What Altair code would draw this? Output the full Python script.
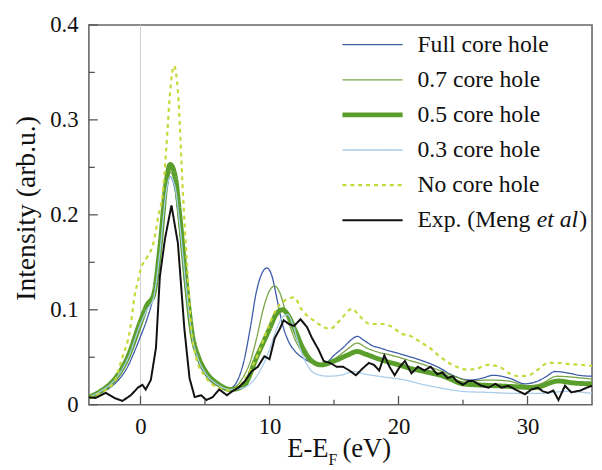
import altair as alt
import pandas as pd

# ---------------- data ----------------
full_E = [-4, -3, -2, -1, -0.5, 0, 0.5, 1, 1.5, 2, 2.3, 2.7, 3, 3.5, 4, 4.5, 5, 6, 7, 7.5, 8, 8.5, 9, 9.4, 9.8,
          10.2, 10.6, 11, 11.5, 12, 12.5, 13, 13.5, 14, 14.5, 15, 15.7, 16.3, 16.8, 17.3, 18, 18.5, 19.2, 20, 20.5,
          21.7, 23, 24.2, 25.5, 26.5, 27.3, 28.6, 29.8, 30.8, 31.5, 32.1, 33.3, 34, 35]
full_I = [0.008, 0.013, 0.022, 0.04, 0.055, 0.072, 0.09, 0.115, 0.165, 0.225, 0.24, 0.225, 0.19, 0.12, 0.072,
          0.045, 0.032, 0.02, 0.018, 0.025, 0.045, 0.08, 0.12, 0.138, 0.144, 0.135, 0.11, 0.085, 0.066, 0.056,
          0.05, 0.046, 0.043, 0.042, 0.045, 0.052, 0.06, 0.068, 0.072, 0.068, 0.062, 0.06, 0.057, 0.054, 0.052,
          0.047, 0.04, 0.031, 0.026, 0.028, 0.031, 0.028, 0.022, 0.025, 0.03, 0.035, 0.033, 0.031, 0.03]

p7_E = [-4, -3, -2, -1, 0, 0.5, 1, 1.5, 2, 2.3, 2.7, 3, 3.5, 4, 4.5, 5, 6, 7, 8, 8.5, 9, 9.5, 10, 10.4, 10.8,
        11.2, 11.6, 12, 12.5, 13, 13.5, 14, 15, 16, 16.8, 17.5, 18.5, 19.5, 20.5, 22, 23, 24.5, 25.5, 27, 28.5,
        30, 31, 32.3, 33.5, 35]
p7_I = [0.008, 0.014, 0.024, 0.045, 0.08, 0.1, 0.12, 0.17, 0.23, 0.245, 0.23, 0.195, 0.125, 0.075, 0.047, 0.033,
        0.02, 0.017, 0.03, 0.045, 0.07, 0.1, 0.12, 0.125, 0.118, 0.1, 0.082, 0.068, 0.056, 0.048, 0.044, 0.042,
        0.048, 0.058, 0.065, 0.06, 0.055, 0.052, 0.048, 0.042, 0.037, 0.029, 0.025, 0.026, 0.025, 0.02, 0.022,
        0.03, 0.029, 0.027]

p5_E = [-4, -3, -2, -1, 0, 0.5, 1, 1.5, 2, 2.3, 2.7, 3, 3.5, 4, 4.5, 5, 6, 7, 8, 9, 9.5, 10, 10.5, 11, 11.5, 12,
        12.5, 13.2, 14, 15, 16, 16.8, 17.5, 18.5, 20, 21, 22, 23.5, 25, 26, 27.5, 29, 30.5, 32.4, 33.5, 35]
p5_I = [0.008, 0.015, 0.027, 0.05, 0.088, 0.105, 0.115, 0.165, 0.235, 0.253, 0.24, 0.205, 0.135, 0.075, 0.05,
        0.036, 0.022, 0.016, 0.02, 0.05, 0.065, 0.08, 0.095, 0.1, 0.093, 0.078, 0.062, 0.047, 0.042, 0.046, 0.052,
        0.056, 0.053, 0.048, 0.042, 0.038, 0.035, 0.03, 0.022, 0.021, 0.02, 0.019, 0.018, 0.025, 0.023, 0.022]

p3_E = [-4, -3, -2, -1, 0, 0.5, 1, 1.5, 2, 2.3, 2.7, 3, 3.5, 4, 4.5, 5, 6, 7, 8, 9, 9.5, 10, 10.5, 11, 11.4, 11.8,
        12.3, 12.8, 13.5, 14.5, 15.5, 16.5, 17.5, 19, 20.5, 22, 23.5, 25, 27, 29, 31, 33, 35]
p3_I = [0.008, 0.015, 0.026, 0.048, 0.085, 0.1, 0.112, 0.16, 0.225, 0.24, 0.228, 0.195, 0.128, 0.072, 0.047,
        0.034, 0.021, 0.016, 0.018, 0.03, 0.042, 0.058, 0.078, 0.092, 0.095, 0.085, 0.062, 0.045, 0.033, 0.03,
        0.031, 0.035, 0.032, 0.029, 0.026, 0.021, 0.017, 0.014, 0.013, 0.012, 0.012, 0.014, 0.012]

no_E = [-4, -3, -2, -1.5, -0.8, -0.45, -0.2, 0, 0.5, 1.0, 1.4, 1.7, 2.0, 2.3, 2.6, 2.9, 3.3, 3.6, 3.9, 4.3, 5, 6,
        7, 8, 9, 10, 10.5, 11.2, 11.9, 12.5, 13.5, 14.7, 15.4, 16.4, 17, 17.8, 18.7, 19.5, 20.2, 21, 21.7, 22.5,
        23.1, 23.9, 24.5, 25.3, 26.1, 26.9, 27.8, 28.6, 29.3, 30.1, 30.8, 31.6, 32.3, 33.1, 34.1, 35]
no_I = [0.008, 0.013, 0.025, 0.046, 0.08, 0.115, 0.13, 0.142, 0.155, 0.17, 0.2, 0.22, 0.27, 0.33, 0.357, 0.33,
        0.22, 0.15, 0.085, 0.05, 0.03, 0.018, 0.015, 0.025, 0.05, 0.085, 0.1, 0.11, 0.113, 0.1, 0.088, 0.08,
        0.088, 0.101, 0.093, 0.085, 0.085, 0.082, 0.075, 0.072, 0.066, 0.059, 0.052, 0.044, 0.04, 0.037, 0.038,
        0.042, 0.04, 0.033, 0.03, 0.031, 0.037, 0.044, 0.044, 0.043, 0.042, 0.041]

exp_E = [-4, -3.5, -2.7, -2, -1.4, -0.75, -0.2, 0.15, 0.4, 0.8, 1.2, 1.5, 1.9, 2.4, 2.9, 3.4, 3.8, 4.2, 4.7, 5.1,
         5.6, 6.1, 6.7, 7.2, 7.6, 8.1, 8.6, 9.1, 9.6, 10.0, 10.4, 10.8, 11.1, 11.5, 11.9, 12.4, 12.9, 13.3, 13.8,
         14.2, 14.7, 15.2, 15.7, 16.2, 16.7, 17.2, 17.7, 18.1, 18.5, 18.9, 19.3, 19.7, 20.1, 20.5, 21, 21.5, 22,
         22.5, 23, 23.4, 23.8, 24.2, 24.5, 25, 25.4, 25.8, 26.4, 27, 27.5, 28, 28.5, 29.2, 29.8, 30.3, 30.8, 31.2,
         31.6, 32, 32.4, 32.9, 33.4, 34.1, 34.6, 35]
exp_I = [0.008, 0.007, 0.0125, 0.007, 0.004, 0.01, 0.018, 0.021, 0.016, 0.026, 0.06, 0.135, 0.175, 0.21, 0.17,
         0.08, 0.028, 0.008, 0.01, 0.005, 0.008, 0.016, 0.01, 0.015, 0.018, 0.025, 0.035, 0.04, 0.051, 0.048,
         0.07, 0.08, 0.089, 0.085, 0.083, 0.09, 0.082, 0.07, 0.058, 0.046, 0.044, 0.04, 0.04, 0.036, 0.031, 0.038,
         0.044, 0.042, 0.036, 0.052, 0.04, 0.031, 0.04, 0.046, 0.033, 0.04, 0.036, 0.04, 0.032, 0.034, 0.028,
         0.03, 0.025, 0.021, 0.025, 0.025, 0.02, 0.018, 0.022, 0.018, 0.02, 0.015, 0.011, 0.016, 0.018, 0.014,
         0.0125, 0.015, 0.005, 0.02, 0.013, 0.015, 0.018, 0.02]

series_names = ["Full core hole", "0.7 core hole", "0.5 core hole", "0.3 core hole", "No core hole",
                "Exp. (Meng et al)"]
series_E = [full_E, p7_E, p5_E, p3_E, no_E, exp_E]
series_I = [full_I, p7_I, p5_I, p3_I, no_I, exp_I]

x_major = [0, 10, 20, 30]
x_minor = [5, 15, 25]
y_major = [0, 0.1, 0.2, 0.3, 0.4]
y_minor = [0.05, 0.15, 0.25, 0.35]

# ---------------- styling ----------------
colors = ["#3d5ca8", "#78a445", "#5a9e2c", "#a9cdea", "#c8d83a", "#111111"]
widths = [1.3, 1.3, 5.0, 1.3, 2.2, 2.0]
dashes = [[1, 0], [1, 0], [1, 0], [1, 0], [4, 4], [1, 0]]
interp = ["monotone", "monotone", "monotone", "monotone", "monotone", "linear"]

W, H = 510, 385
SERIF = "Liberation Serif, Times New Roman, serif"

xscale = alt.Scale(domain=[-4, 35], nice=False, zero=False)
yscale = alt.Scale(domain=[0, 0.4], nice=False, zero=False)

layers = []

# zero-energy guide line
zero_df = pd.DataFrame({"E": [0]})
layers.append(
    alt.Chart(zero_df).mark_rule(color="#d0d0d0", strokeWidth=1).encode(
        x=alt.X("E:Q", scale=xscale,
                axis=alt.Axis(values=x_major, title=None, ticks=False, tickSize=0, domain=False, grid=False,
                              labelFont=SERIF, labelFontSize=23, labelColor="#111", labelPadding=11)),
        y=alt.value(0), y2=alt.value(H)
    )
)

# curves
for name, E, I, c, w, d, ip in zip(series_names, series_E, series_I, colors, widths, dashes, interp):
    df = pd.DataFrame({"E": E, "I": I})
    layers.append(
        alt.Chart(df).mark_line(color=c, strokeWidth=w, strokeDash=d, interpolate=ip, clip=True).encode(
            x=alt.X("E:Q", scale=xscale),
            y=alt.Y("I:Q", scale=yscale,
                    axis=alt.Axis(values=y_major, title=None, ticks=False, tickSize=0, domain=False, grid=False,
                                  labelFont=SERIF, labelFontSize=23, labelColor="#111", labelPadding=11,
                                  labelExpr="datum.value == 0 ? '0' : format(datum.value, '.1f')"))
        )
    )

# inward ticks
layers.append(alt.Chart(pd.DataFrame({"E": x_major})).mark_rule(color="#555", strokeWidth=1.3).encode(
    x=alt.X("E:Q", scale=xscale), y=alt.value(H), y2=alt.value(H - 9)))
layers.append(alt.Chart(pd.DataFrame({"E": x_minor})).mark_rule(color="#555", strokeWidth=1.3).encode(
    x=alt.X("E:Q", scale=xscale), y=alt.value(H), y2=alt.value(H - 5)))
layers.append(alt.Chart(pd.DataFrame({"I": y_major})).mark_rule(color="#555", strokeWidth=1.3).encode(
    y=alt.Y("I:Q", scale=yscale), x=alt.value(0), x2=alt.value(9)))
layers.append(alt.Chart(pd.DataFrame({"I": y_minor})).mark_rule(color="#555", strokeWidth=1.3).encode(
    y=alt.Y("I:Q", scale=yscale), x=alt.value(0), x2=alt.value(6)))

# legend (manual, to allow the italic "et al")
one = alt.Data(values=[{}])
for i, (name, c, w, d) in enumerate(zip(series_names, colors, widths, dashes)):
    yrow = 20 + 35.6 * i
    layers.append(alt.Chart(one).mark_rule(color=c, strokeWidth=w, strokeDash=d).encode(
        x=alt.value(257), x2=alt.value(318), y=alt.value(yrow)))
    if name.startswith("Exp."):
        parts = [("Exp. (Meng ", "normal", 333), ("et al", "italic", 454), (")", "normal", 497)]
        for txt, style, xp in parts:
            layers.append(alt.Chart(one).mark_text(text=txt, font=SERIF, fontSize=24, fontStyle=style,
                                                   color="#111", align="left", baseline="middle").encode(
                x=alt.value(xp), y=alt.value(yrow)))
    else:
        layers.append(alt.Chart(one).mark_text(text=name, font=SERIF, fontSize=24, color="#111",
                                               align="left", baseline="middle").encode(
            x=alt.value(333), y=alt.value(yrow)))

# axis titles
layers.append(alt.Chart(one).mark_text(text="Intensity (arb.u.)", font=SERIF, fontSize=28, color="#111",
                                       angle=270, align="center", baseline="middle").encode(
    x=alt.value(-63), y=alt.value(186)))
layers.append(alt.Chart(one).mark_text(text="E-E", font=SERIF, fontSize=27, color="#111",
                                       align="right", baseline="alphabetic").encode(
    x=alt.value(243), y=alt.value(438)))
layers.append(alt.Chart(one).mark_text(text="F", font=SERIF, fontSize=16, color="#111",
                                       align="left", baseline="alphabetic").encode(
    x=alt.value(243), y=alt.value(446)))
layers.append(alt.Chart(one).mark_text(text="(eV)", font=SERIF, fontSize=27, color="#111",
                                       align="left", baseline="alphabetic").encode(
    x=alt.value(257), y=alt.value(438)))

chart = alt.layer(*layers).properties(
    width=W, height=H,
    autosize=alt.AutoSizeParams(type="none"),
    padding={"left": 82, "top": 14, "right": 2, "bottom": 62},
    background="white",
).configure_view(stroke="#666", strokeWidth=1.6)

chart.save("out.html", embed_options={"renderer": "svg", "actions": False})
